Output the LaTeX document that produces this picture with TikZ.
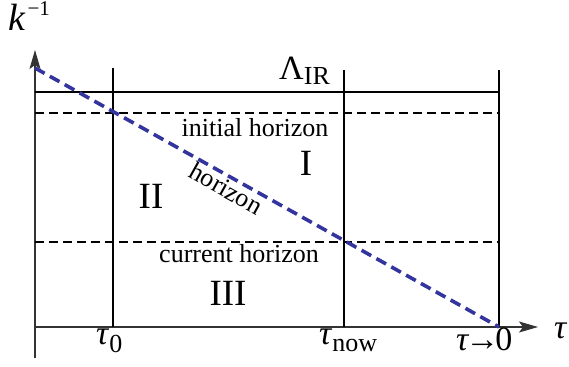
\documentclass[tikz,border=0pt]{standalone}
\usepackage{fontspec}
\setmainfont{Liberation Serif}
\usetikzlibrary{arrows.meta}
\definecolor{hblue}{RGB}{52,52,158}
\begin{document}
\begin{tikzpicture}[x=1pt,y=-1pt,
  lbl/.style={inner sep=0pt,anchor=base,font=\fontsize{26}{26}\selectfont},
  big/.style={inner sep=0pt,anchor=base,font=\fontsize{37}{37}\selectfont},
  tau/.style={inner sep=0pt,anchor=base west,font=\fontsize{34}{34}\selectfont},
  axisline/.style={line width=1.1pt,draw=black!80},
  vline/.style={line width=2.3pt},
  irline/.style={line width=1.6pt},
  hdash/.style={line width=2.2pt,dash pattern=on 9pt off 5pt},
  horline/.style={line width=3.6pt,draw=hblue,dash pattern=on 11pt off 6pt},
  tip/.style={-{Stealth[length=19pt,width=11pt,inset=4pt]}}]
\useasboundingbox (0,0) rectangle (569,366);
% coordinates
\coordinate (Ybot) at (35,358);
\coordinate (Ytop) at (35,50);
\coordinate (X0) at (35,327);
\coordinate (Xend) at (538,327);
\coordinate (HS) at (35,68);
\coordinate (HE) at (499,327);
\coordinate (A1) at (113,68);  \coordinate (A0) at (113,327);
\coordinate (B1) at (344,70);  \coordinate (B0) at (344,327);
\coordinate (C1) at (499,70);  \coordinate (C0) at (499,327);
\coordinate (IRl) at (35,92);  \coordinate (IRr) at (499,92);
\coordinate (INl) at (35,113); \coordinate (INr) at (499,113);
\coordinate (CUl) at (35,242); \coordinate (CUr) at (499,242);
% axes
\draw[axisline] (Ybot) -- (X0);
\draw[axisline,tip] (X0) -- (Ytop);
\draw[axisline,tip] (X0) -- (Xend);
% lines
\draw[irline] (IRl) -- (IRr);
\draw[hdash] (INl) -- (INr);
\draw[hdash] (CUl) -- (CUr);
\draw[vline] (A1) -- (A0);
\draw[vline] (B1) -- (B0);
\draw[vline] (C1) -- (C0);
\draw[horline] (HS) -- (HE);
% labels
\node[inner sep=0pt,anchor=base west,font=\fontsize{38}{38}\selectfont] (kinv) at (8,31)
  {\textit{k}\kern2pt\raisebox{15pt}{\fontsize{21}{21}\selectfont −1}};
\node[inner sep=0pt,anchor=base west,font=\fontsize{34}{34}\selectfont] (lir) at (279,80)
  {Λ\raisebox{-5pt}{\fontsize{26}{26}\selectfont IR}};
\node[lbl] (init) at (255,136) {initial horizon};
\node[lbl] (curr) at (239,262) {current horizon};
\node[lbl,rotate=-29.2] (hz) at (222,196) {horizon};
\node[big] (r1) at (306,175) {I};
\node[big] (r2) at (151,208) {II};
\node[big] (r3) at (228,305) {III};
\node[tau] (t0) at (96,344) {\textit{τ}\raisebox{-8pt}{\fontsize{26}{26}\selectfont 0}};
\node[tau] (tnow) at (319,344) {\textit{τ}\raisebox{-7pt}{\fontsize{26}{26}\selectfont now}};
\node[tau] (tz) at (456,350) {\textit{τ}\kern-4pt→\kern-4pt0};
\node[tau] (tax) at (554,338) {\textit{τ}};
\end{tikzpicture}
\end{document}
